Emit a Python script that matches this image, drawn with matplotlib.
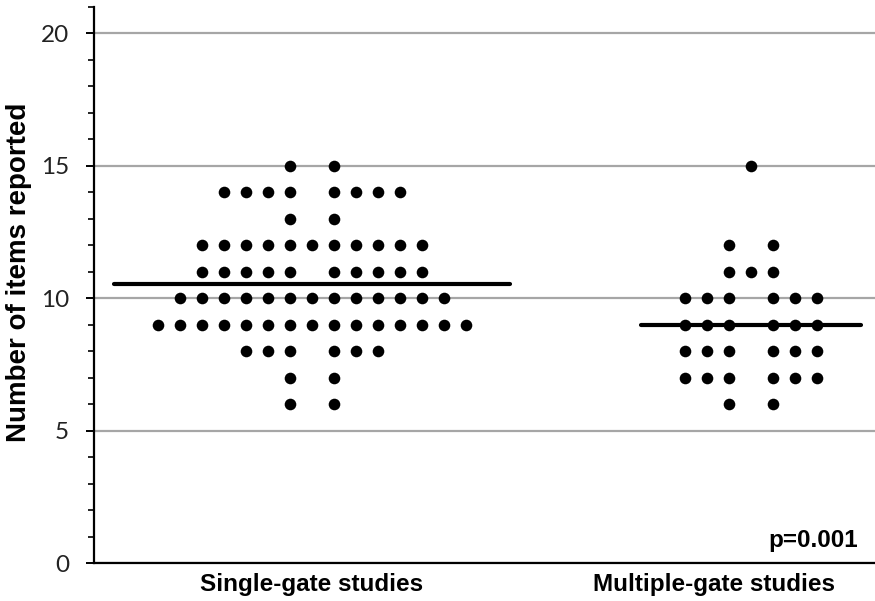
import numpy as np
import matplotlib
matplotlib.use("Agg")
import matplotlib.pyplot as plt
from matplotlib.ticker import MultipleLocator

# Number of studies reporting each score, per design
scores = [15, 14, 13, 12, 11, 10, 9, 8, 7, 6]
single_counts = [2, 8, 2, 11, 10, 13, 15, 6, 2, 2]
multiple_counts = [1, 0, 0, 2, 3, 6, 6, 6, 6, 2]
groups = ["Single-gate studies", "Multiple-gate studies"]
p_text = "p=0.001"

positions = [0.0, 1.0]          # centres of the dot columns
label_positions = [0.0, 0.915]  # centres of the category captions
spacing = 0.0501  # horizontal gap between neighbouring dots

fig = plt.figure(figsize=(8.75, 6.01), dpi=100)
ax = fig.add_axes([94 / 875, 38 / 601, 781 / 875, 556 / 601])

ax.set_xlim(-0.4966, 1.2825)
ax.set_ylim(0, 21)

for pos, counts in zip(positions, [single_counts, multiple_counts]):
    xs, ys = [], []
    max_off = 0
    for score, n in zip(scores, counts):
        if n == 0:
            continue
        if n % 2:
            half = (n - 1) // 2
            offs = list(range(-half, half + 1))
        else:
            half = n // 2
            offs = list(range(-half, 0)) + list(range(1, half + 1))
        max_off = max(max_off, half)
        xs += [pos + o * spacing for o in offs]
        ys += [score] * n
    ax.scatter(xs, ys, s=70, color="black", zorder=3, linewidths=0)
    mean = np.sum(np.array(scores) * np.array(counts)) / np.sum(counts)
    hw = (max_off + 2) * spacing
    ax.plot([pos - hw, pos + hw], [mean, mean], color="black", lw=3, zorder=4,
            solid_capstyle="round")

# Axes styling
for side in ["top", "right"]:
    ax.spines[side].set_visible(False)
ax.spines["left"].set_linewidth(1.6)
ax.spines["bottom"].set_linewidth(1.6)
ax.yaxis.grid(True, color="#a6a6a6", lw=1.6, zorder=0)
ax.set_axisbelow(True)
ax.yaxis.set_major_locator(MultipleLocator(5))
ax.yaxis.set_minor_locator(MultipleLocator(1))
ax.set_yticks([0, 5, 10, 15, 20])
ax.tick_params(axis="y", which="major", length=6, width=1.4, labelsize=17.5, pad=12)
ax.tick_params(axis="y", which="minor", length=4, width=1.2)
for lab in ax.get_yticklabels():
    lab.set_fontfamily("Lato")
    lab.set_color("#222222")

ax.set_xticks(label_positions)
ax.set_xticklabels(groups, fontsize=17.5, fontweight="bold", fontfamily="Liberation Sans")
ax.tick_params(axis="x", length=0, pad=7)

ax.set_ylabel("Number of items reported", fontsize=20, fontweight="bold",
              fontfamily="Liberation Sans")
ax.yaxis.set_label_coords(-0.079, 0.523)

ax.text(1.2440, 0.85, p_text, fontsize=17.5, fontweight="bold",
        fontfamily="Liberation Sans", ha="right", va="center")

fig.savefig("out.png", dpi=100)
